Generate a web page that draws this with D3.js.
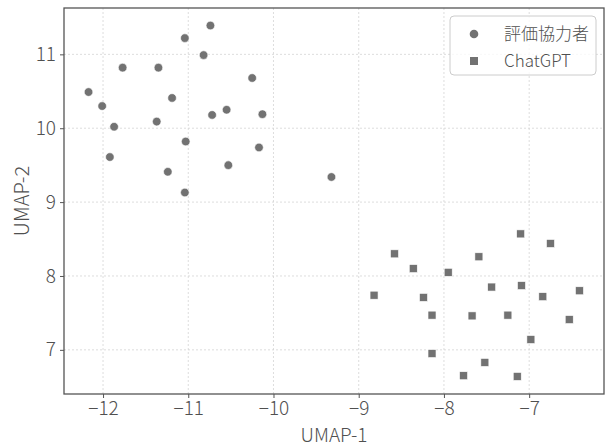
<!DOCTYPE html>
<html>
<head>
<meta charset="utf-8">
<script src="https://cdn.jsdelivr.net/npm/d3@7"></script>
<style>
  body { margin: 0; background: #fff; }
  svg text { font-family: "Noto Sans CJK JP Light", "Noto Sans CJK JP", "Noto Sans", sans-serif; font-weight: 300; fill: #505050; }
</style>
</head>
<body>
<div id="chart"></div>
<script>
// UMAP coordinates
var raterX = [-10.74, -11.04, -10.82, -11.77, -11.35, -10.25, -12.17, -11.19, -12.01, -10.55, -10.72,
              -10.13, -11.37, -11.87, -11.03, -10.17, -11.92, -10.53, -11.24, -11.04, -9.32];
var raterY = [11.39, 11.22, 10.99, 10.82, 10.82, 10.68, 10.49, 10.41, 10.30, 10.25, 10.18,
              10.19, 10.09, 10.02, 9.82, 9.74, 9.61, 9.50, 9.41, 9.13, 9.34];

var gptX = [-7.10, -6.75, -8.58, -7.59, -8.36, -7.95, -7.44, -7.09, -6.41, -8.82, -6.84,
            -8.24, -8.14, -7.67, -7.25, -6.53, -6.98, -8.14, -7.52, -7.77, -7.14];
var gptY = [8.57, 8.44, 8.30, 8.26, 8.10, 8.05, 7.85, 7.87, 7.80, 7.74, 7.72,
            7.71, 7.47, 7.46, 7.47, 7.41, 7.14, 6.95, 6.83, 6.65, 6.64];

var xTicks = [-12, -11, -10, -9, -8, -7];
var yTicks = [7, 8, 9, 10, 11];
var legendLabels = ["評価協力者", "ChatGPT"];

var width = 605, height = 448;
var margin = {top: 8, right: 1, bottom: 54, left: 64};
var w = width - margin.left - margin.right,
    h = height - margin.top - margin.bottom;

var pointColor = "#727272";

// matplotlib style 5% padding around the data
function padded(a, b) {
    var ext = d3.extent(a.concat(b));
    var pad = (ext[1] - ext[0]) * 0.05;
    return [ext[0] - pad, ext[1] + pad];
}

var x = d3.scaleLinear().domain(padded(raterX, gptX)).range([0, w]);
var y = d3.scaleLinear().domain(padded(raterY, gptY)).range([h, 0]);

var svg = d3.select("#chart").append("svg")
    .attr("width", width)
    .attr("height", height);

var g = svg.append("g")
    .attr("transform", "translate(" + margin.left + "," + margin.top + ")");

// grid
g.selectAll(".gx").data(xTicks).enter().append("line")
    .attr("x1", function(d) { return x(d); })
    .attr("x2", function(d) { return x(d); })
    .attr("y1", 0).attr("y2", h)
    .style("stroke", "#d4d4d4").style("stroke-dasharray", "2,2").style("stroke-width", 0.8);

g.selectAll(".gy").data(yTicks).enter().append("line")
    .attr("y1", function(d) { return y(d); })
    .attr("y2", function(d) { return y(d); })
    .attr("x1", 0).attr("x2", w)
    .style("stroke", "#d4d4d4").style("stroke-dasharray", "2,2").style("stroke-width", 0.8);

// axes
var xAxis = g.append("g")
    .attr("transform", "translate(0," + h + ")")
    .call(d3.axisBottom(x).tickValues(xTicks).tickSize(4).tickPadding(3)
        .tickFormat(function(d) { return "\u2212" + Math.abs(d); }));

var yAxis = g.append("g")
    .call(d3.axisLeft(y).tickValues(yTicks).tickSize(4).tickPadding(4)
        .tickFormat(d3.format("d")));

[xAxis, yAxis].forEach(function(a) {
    a.select(".domain").remove();
    a.selectAll("line").style("stroke", "#555").style("stroke-width", 1);
    a.selectAll("text").style("font-size", "19px").style("fill", "#505050");
});

// frame
g.append("rect")
    .attr("width", w).attr("height", h)
    .style("fill", "none").style("stroke", "#555").style("stroke-width", 1.3);

// points
g.selectAll(".rater").data(raterX).enter().append("circle")
    .attr("cx", function(d) { return x(d); })
    .attr("cy", function(d, i) { return y(raterY[i]); })
    .attr("r", 4.3)
    .style("fill", pointColor)
    .style("stroke", "#fff").style("stroke-width", 0.6);

g.selectAll(".gpt").data(gptX).enter().append("rect")
    .attr("x", function(d) { return x(d) - 4; })
    .attr("y", function(d, i) { return y(gptY[i]) - 4; })
    .attr("width", 8).attr("height", 8)
    .style("fill", pointColor)
    .style("stroke", "#fff").style("stroke-width", 0.6);

// axis labels
svg.append("text")
    .attr("x", margin.left + w / 2)
    .attr("y", 442)
    .attr("text-anchor", "middle")
    .style("font-size", "19px")
    .text("UMAP-1");

svg.append("text")
    .attr("transform", "translate(29," + (margin.top + h / 2) + ") rotate(-90)")
    .attr("text-anchor", "middle")
    .style("font-size", "20px")
    .text("UMAP-2");

/***** Legend *****/
var legend = svg.append("g").attr("transform", "translate(450,16)");

legend.append("rect")
    .attr("width", 146).attr("height", 59).attr("rx", 4)
    .style("fill", "#fff").style("fill-opacity", 0.8)
    .style("stroke", "#ccc").style("stroke-width", 1);

legend.append("circle")
    .attr("cx", 24).attr("cy", 18).attr("r", 4.3)
    .style("fill", pointColor);

legend.append("rect")
    .attr("x", 20).attr("y", 41).attr("width", 8).attr("height", 8)
    .style("fill", pointColor);

legend.selectAll(".lt").data(legendLabels).enter().append("text")
    .attr("x", 54)
    .attr("y", function(d, i) { return 24 + i * 27; })
    .style("font-size", "17px")
    .text(function(d) { return d; });
</script>
</body>
</html>
